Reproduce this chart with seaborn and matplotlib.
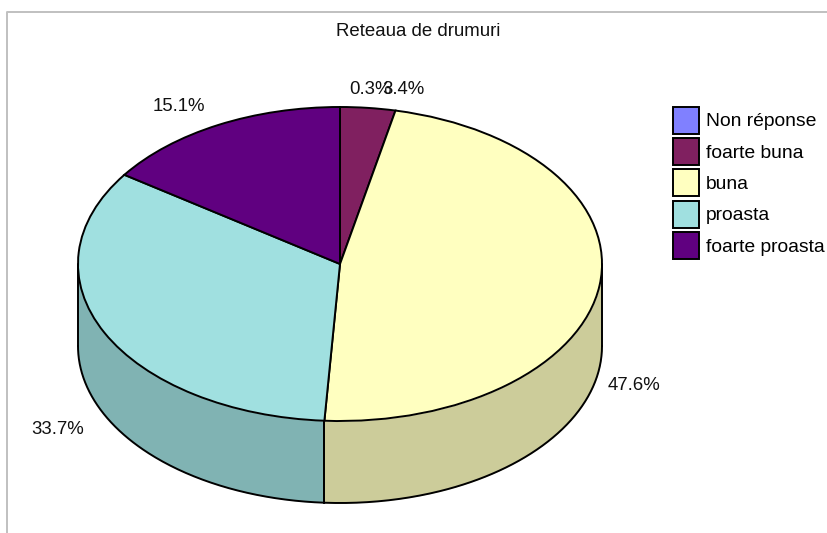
import numpy as np
import seaborn as sns
import matplotlib.pyplot as plt
from matplotlib.lines import Line2D
from matplotlib.patches import Patch

categories = ["Non réponse", "foarte buna", "buna", "proasta", "foarte proasta"]
shares = [0.3, 3.4, 47.6, 33.7, 15.1]
title_text = "Reteaua de drumuri"

top_colors = ["#8080FF", "#802060", "#FFFFC0", "#A0E0E0", "#600080"]
wall_colors = ["#6666CC", "#661A4D", "#CCCC9A", "#80B3B3", "#4D0066"]

W, H = 827, 533
CX, CY, RX, RY, DEPTH = 340.0, 264.0, 262.0, 157.0, 82.0
FONT_PT = 13.4
LEGEND_PT = 13.9
LEGEND_PX = LEGEND_PT * 100 / 72

sns.set_theme(style="white")
plt.rcParams["font.family"] = ["Liberation Sans", "DejaVu Sans"]

fig = plt.figure(figsize=(W / 100, H / 100), dpi=100)
ax = fig.add_axes([0, 0, 1, 1])

# the tiny first slice is hidden in the original, foarte buna starts dead on top
sliver = shares[0] / sum(shares) * 360
palette = sns.color_palette(top_colors)
wedges, _ = ax.pie(shares, colors=palette, startangle=90 + sliver,
                   counterclock=False, radius=1.0, normalize=True,
                   wedgeprops={"edgecolor": "black", "linewidth": 1.4, "zorder": 5})
wedges[0].set_visible(False)
wedges[-1].set_theta1(wedges[-1].theta1 - sliver)

# the pie lives in unit circle coordinates, stretched to an ellipse by the limits
ax.set_aspect("auto")
ax.set_xlim(-CX / RX, (W - CX) / RX)
ax.set_ylim((CY - H) / RY, CY / RY)
ax.axis("off")

depth = DEPTH / RY
edges = np.cumsum([0] + shares) / sum(shares) * 360 - sliver

# side wall, only the front half of each slice can be seen
for i, col in enumerate(wall_colors):
    start = max(edges[i], 90)
    stop = min(edges[i + 1], 270)
    if stop <= start:
        continue
    t = np.radians(np.linspace(start, stop, 200))
    x, y = np.sin(t), np.cos(t)
    ax.fill_between(x, y, y - depth, color=col, linewidth=0, zorder=2)
    ax.plot(x, y - depth, color="black", lw=1.4, zorder=3)
    for edge in (start, stop):
        e = np.radians(edge)
        ax.plot([np.sin(e)] * 2, [np.cos(e), np.cos(e) - depth],
                color="black", lw=1.4, zorder=3)

handles = [Patch(facecolor=c, edgecolor="black", linewidth=1.4) for c in palette]
ax.legend(handles, categories, loc="upper left",
          bbox_to_anchor=(672.5 / W, 1 - 106.5 / H),
          bbox_transform=fig.transFigure, frameon=False, fontsize=LEGEND_PT,
          handlelength=26 / LEGEND_PX, handleheight=1.776,
          labelspacing=4.4 / LEGEND_PX, handletextpad=7 / LEGEND_PX,
          borderpad=0, borderaxespad=0, labelcolor="black")


# text placed in pixels of the picture
def place(x, y, s):
    ax.text(x / W, 1 - y / H, s, transform=ax.transAxes, fontsize=FONT_PT,
            ha="center", va="center", color="#111111", zorder=8)


place(418, 32, title_text)
label_pos = [(371, 89), (403, 89), (634, 386), (58, 429), (179, 106)]
for (lx, ly), v in zip(label_pos, shares):
    place(lx, ly, f"{v}%")

fig.add_artist(Line2D([7 / W, 7 / W, 1], [0, 1 - 12 / H, 1 - 12 / H],
                      color="#C0C0C0", lw=1.4))

fig.savefig("out.png", dpi=100)
